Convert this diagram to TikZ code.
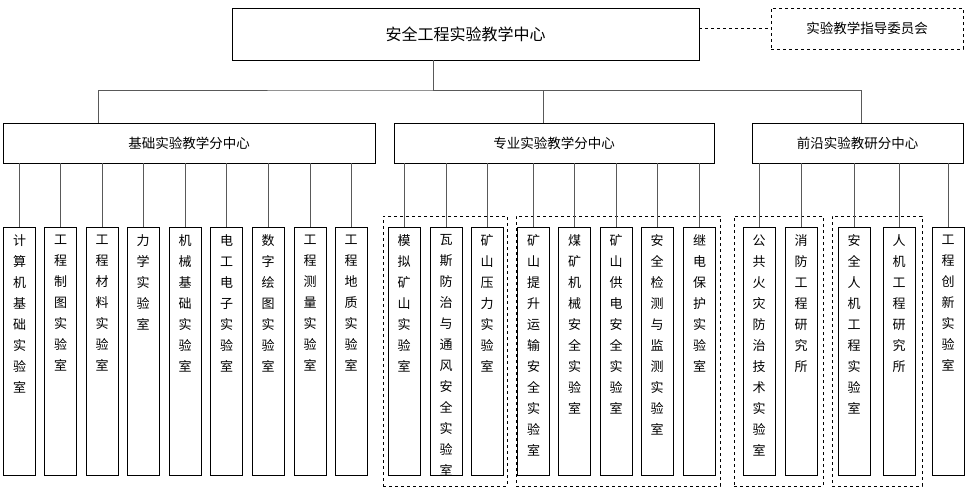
\documentclass[tikz,border=0pt]{standalone}
\usepackage{fontspec}
\setmainfont{Noto Sans CJK SC}
\def\vtx#1{\expandafter\vtloop#1\relax}
\def\vtloop#1{\ifx\relax#1\else#1\\\expandafter\vtloop\fi}
\begin{document}
\begin{tikzpicture}[x=1pt,y=-1pt,
  box/.style={draw=black,line width=0.8pt,fill=white,inner sep=0pt},
  leaf/.style={box,minimum width=32pt,minimum height=248pt},
  grp/.style={draw=black,dashed,line width=0.6pt},
  conn/.style={draw=black!65,line width=1pt},
  lab/.style={font=\fontsize{13pt}{21pt}\selectfont,align=center,anchor=north,inner sep=0pt,yshift=-8pt}]
\useasboundingbox[fill=white] (0,0) rectangle (970,496);
% groups
\node[grp,minimum width=124pt,minimum height=270pt] (ga) at (445,351) {};
\node[grp,minimum width=204pt,minimum height=270pt] (gb) at (618,351) {};
\node[grp,minimum width=89pt,minimum height=270pt] (gc) at (778.5,351) {};
\node[grp,minimum width=90pt,minimum height=270pt] (gd) at (877,351) {};
% top
\node[box,minimum width=467pt,minimum height=52pt,font=\fontsize{16pt}{18pt}\selectfont] (top) at (465.5,34) {安全工程实验教学中心};
\node[grp,minimum width=192pt,minimum height=41pt,font=\fontsize{13.5pt}{16pt}\selectfont] (com) at (867,28.5) {实验教学指导委员会};
\draw[grp] (top.east |- com.west) -- (com.west);
% level 2
\tikzset{mid/.style={box,minimum height=40pt,font=\fontsize{13.5pt}{16pt}\selectfont}}
\node[mid,minimum width=372pt] (b1) at (189,143) {基础实验教学分中心};
\node[mid,minimum width=320pt] (b2) at (554,143) {专业实验教学分中心};
\node[mid,minimum width=211pt] (b3) at (857.5,143) {前沿实验教研分中心};
\coordinate (bus) at (433,90);
\draw[conn] (top.south -| bus) -- (bus);
\draw[conn] (b1.north -| 98,0) |- (bus) -| (b2.north -| 543,0);
\draw[conn] (bus) -| (b3.north -| 861,0);
% leaves
\foreach \n/\x/\t in {
 l1/19.5/计算机基础实验室, l2/60.5/工程制图实验室, l3/102/工程材料实验室,
 l4/143/力学实验室, l5/185/机械基础实验室, l6/226.5/电工电子实验室,
 l7/268/数字绘图实验室, l8/310/工程测量实验室, l9/351/工程地质实验室,
 m1/404/模拟矿山实验室, m2/446/瓦斯防治与通风安全实验室, m3/487/矿山压力实验室,
 m4/533.5/矿山提升运输安全实验室, m5/574.5/煤矿机械安全实验室, m6/616/矿山供电安全实验室,
 m7/657/安全检测与监测实验室, m8/699.5/继电保护实验室,
 f1/759/公共火灾防治技术实验室, f2/801/消防工程研究所, f3/854/安全人机工程实验室,
 f4/899/人机工程研究所, f5/948/工程创新实验室}{
  \node[leaf,label={[lab]north:\vtx{\t}}] (\n) at (\x,351) {};
  \draw[conn] (\n.north) -- (\n.north |- b1.south);
}
\end{tikzpicture}
\end{document}
